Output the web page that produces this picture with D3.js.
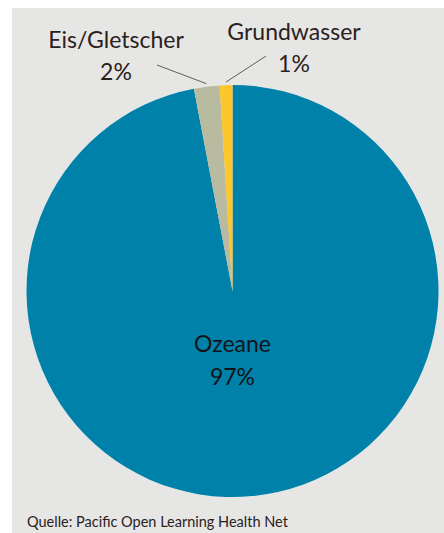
<!DOCTYPE html>
<html>
<head>
<meta charset="utf-8">
<script src="https://cdn.jsdelivr.net/npm/d3@7"></script>
<style>
  body { margin: 0; background: #fff; }
  text { font-family: Lato, "Open Sans", sans-serif; fill: #2b211c; }
</style>
</head>
<body>
<script>
// data
const categories = ["Ozeane", "Eis/Gletscher", "Grundwasser"];
const shares = [97, 2, 1];
const colors = ["#0081aa", "#b8bb9f", "#fcc72c"];
const source = "Quelle: Pacific Open Learning Health Net";

const width = 444, height = 533;
const cx = 232.5, cy = 291, radius = 206;

const svg = d3.select("body").append("svg")
  .attr("width", width)
  .attr("height", height);

// grey panel
svg.append("rect")
  .attr("x", 12).attr("y", 8)
  .attr("width", width - 12).attr("height", height - 8)
  .attr("fill", "#e6e6e5");

const slices = d3.pie().sort(null)(shares);
const arc = d3.arc().innerRadius(0).outerRadius(radius);

const g = svg.append("g").attr("transform", `translate(${cx},${cy})`);

g.selectAll("path")
  .data(slices)
  .join("path")
  .attr("d", arc)
  .attr("fill", (d, i) => colors[i]);

// big slice label inside
g.append("text")
  .attr("text-anchor", "middle")
  .attr("font-size", 23)
  .style("fill", "#101418")
  .selectAll("tspan")
  .data([categories[0], shares[0] + "%"])
  .join("tspan")
  .attr("x", 0)
  .attr("y", (d, i) => 61 + i * 33)
  .text(d => d);

// small slices: labels above with leader lines
const outside = [
  { i: 1, lx: 116, ly: 48, line: [157, 65] },
  { i: 2, lx: 294, ly: 40, line: [266, 56] }
];

outside.forEach(o => {
  const a = (slices[o.i].startAngle + slices[o.i].endAngle) / 2;
  const px = cx + Math.sin(a) * (radius + 3);
  const py = cy - Math.cos(a) * (radius + 3);
  svg.append("line")
    .attr("x1", o.line[0]).attr("y1", o.line[1])
    .attr("x2", px).attr("y2", py)
    .attr("stroke", "#3a3a3a")
    .attr("stroke-width", 0.8);

  svg.append("text")
    .attr("text-anchor", "middle")
    .attr("font-size", 23)
    .selectAll("tspan")
    .data([categories[o.i], shares[o.i] + "%"])
    .join("tspan")
    .attr("x", o.lx)
    .attr("y", (d, i) => o.ly + i * 32)
    .text(d => d);
});

svg.append("text")
  .attr("x", 27).attr("y", 527)
  .attr("font-size", 14.5)
  .text(source);
</script>
</body>
</html>
